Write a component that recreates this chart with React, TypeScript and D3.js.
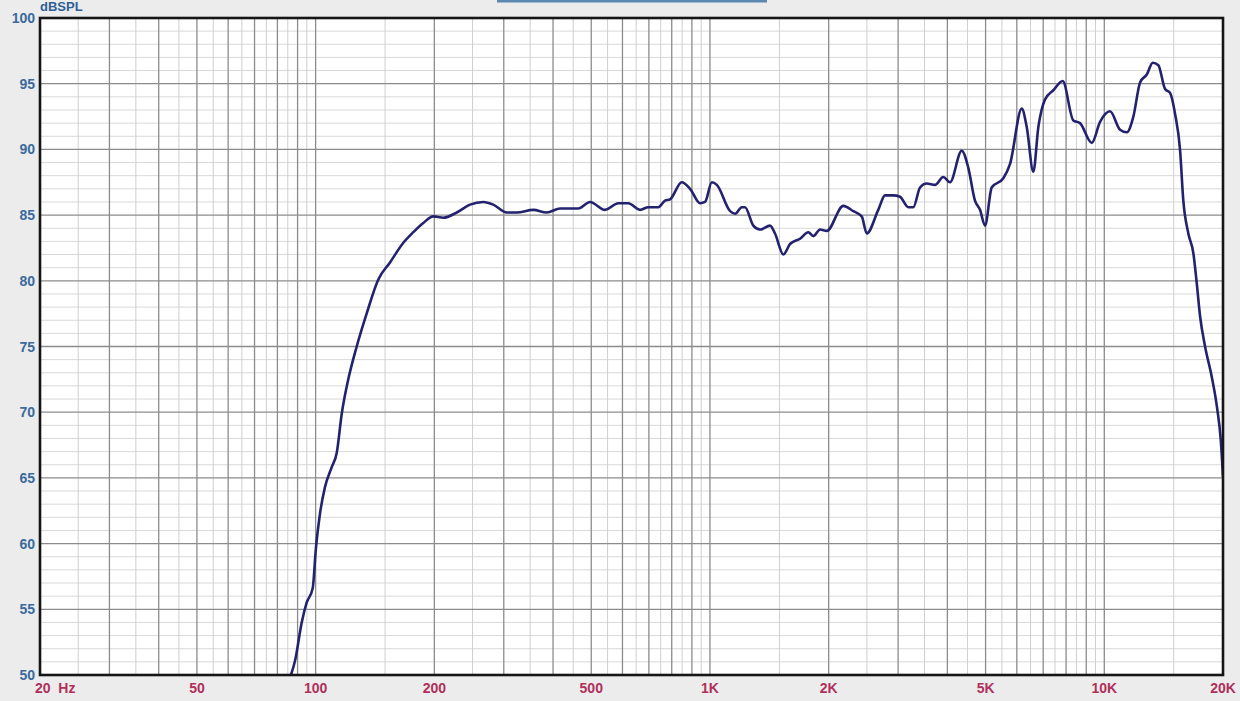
import { useEffect, useRef } from 'react';
import * as d3 from 'd3';

// ─── Data ────────────────────────────────────────────────────
const FREQ = [
  86.6, 88.7, 92.2, 94.9, 98.3, 100.2, 102.6, 105.6, 109.8, 113.1,
  116.5, 121.0, 127.1, 134.7, 144.2, 154.4, 166.9, 176.9, 187.5, 198.8,
  210.8, 228, 246.4, 266.2, 282.2, 305.2, 323.6, 356.4, 385.5, 416.8,
  441.7, 463.6, 496.4, 541.8, 585.6, 620.8, 664.8, 697.6, 739.6, 769.2,
  792.2, 848.2, 890.4, 943.8, 971.8, 1011, 1041, 1125, 1158, 1204,
  1227, 1288, 1340, 1420, 1462, 1535, 1596, 1692, 1776, 1829,
  1902, 1978, 2178, 2310, 2426, 2498, 2672, 2780, 2916, 3032,
  3184, 3278, 3410, 3546, 3722, 3906, 4062, 4350, 4520, 4700,
  4840, 4984, 5182, 5546, 5768, 6176, 6358, 6608, 6804, 7074,
  7426, 7844, 8346, 8678, 9296, 9756, 10342, 10964, 11402, 11850,
  12324, 12816, 13272, 13710, 14258, 14682, 15118, 15560, 15864, 16336,
  16822, 17160, 17494, 18012, 18726, 19348, 19740, 20000,
];

const SPL = [
  50.0, 51.1, 54.0, 55.5, 56.6, 59.7, 62.3, 64.3, 65.8, 66.9,
  69.9, 72.5, 75.0, 77.5, 80.1, 81.4, 82.9, 83.7, 84.4, 84.9,
  84.8, 85.2, 85.8, 86.0, 85.8, 85.2, 85.2, 85.4, 85.2, 85.5,
  85.5, 85.5, 86.0, 85.4, 85.9, 85.9, 85.4, 85.6, 85.6, 86.1,
  86.2, 87.5, 87.0, 85.9, 86.0, 87.5, 87.3, 85.3, 85.1, 85.6,
  85.6, 84.2, 83.9, 84.2, 83.6, 82.0, 82.8, 83.2, 83.7, 83.4,
  83.9, 83.8, 85.7, 85.3, 84.9, 83.6, 85.4, 86.5, 86.5, 86.4,
  85.6, 85.6, 87.1, 87.4, 87.3, 87.9, 87.5, 89.9, 88.6, 86.1,
  85.4, 84.2, 87.1, 87.8, 88.9, 93.1, 91.7, 88.3, 91.7, 93.8,
  94.5, 95.2, 92.2, 92.0, 90.5, 92.1, 92.9, 91.5, 91.3, 92.5,
  95.1, 95.7, 96.6, 96.4, 94.6, 94.3, 92.7, 90.0, 86.1, 83.6,
  82.1, 79.8, 77.3, 75.0, 72.7, 70.2, 67.9, 65.1,
];

const X_TICKS = [20, 50, 100, 200, 500, 1000, 2000, 5000, 10000, 20000];
const X_LABELS = ['20  Hz', '50', '100', '200', '500', '1K', '2K', '5K', '10K', '20K'];
const Y_TICKS = [50, 55, 60, 65, 70, 75, 80, 85, 90, 95, 100];

const W = 1240;
const H = 701;
const M = { left: 40, right: 1223, top: 18, bottom: 675 };

export default function App() {
  const svgRef = useRef<SVGSVGElement>(null);

  useEffect(() => {
    if (!svgRef.current) return;
    document.body.style.margin = '0';

    const svg = d3.select(svgRef.current);
    svg.selectAll('*').remove();

    const x = d3.scaleLog().domain([20, 20000]).range([M.left, M.right]);
    const y = d3.scaleLinear().domain([50, 100]).range([M.bottom, M.top]);

    // background
    svg.append('rect').attr('width', W).attr('height', H).attr('fill', '#ececec');

    // header bar (title box cut off by the top edge)
    svg.append('rect')
      .attr('x', 497).attr('y', 0).attr('width', 270).attr('height', 2.5)
      .attr('fill', '#5a88b2');

    svg.append('rect')
      .attr('x', M.left).attr('y', M.top)
      .attr('width', M.right - M.left).attr('height', M.bottom - M.top)
      .attr('fill', '#ffffff');

    const grid = svg.append('g');

    // ─── Horizontal grid: 1 dB minor, 5 dB major ─────────────
    d3.range(51, 100).filter((v) => v % 5 !== 0).forEach((v) => {
      grid.append('line')
        .attr('x1', M.left).attr('x2', M.right)
        .attr('y1', y(v)).attr('y2', y(v))
        .attr('stroke', '#d9d9d9').attr('stroke-width', 1);
    });

    // ─── Vertical grid ───────────────────────────────────────
    const minorF: number[] = [];
    const majorF: number[] = [];
    [10, 100, 1000, 10000].forEach((dec) => {
      for (let k = 1; k <= 9; k++) {
        const f = k * dec;
        if (f > 20 && f < 20000) majorF.push(f);
        const h = (k + 0.5) * dec;
        if (h > 20 && h < 20000) minorF.push(h);
      }
    });

    minorF.forEach((f) => {
      grid.append('line')
        .attr('x1', x(f)).attr('x2', x(f))
        .attr('y1', M.top).attr('y2', M.bottom)
        .attr('stroke', '#cfcfcf').attr('stroke-width', 1);
    });

    Y_TICKS.filter((v) => v > 50 && v < 100).forEach((v) => {
      grid.append('line')
        .attr('x1', M.left).attr('x2', M.right)
        .attr('y1', y(v)).attr('y2', y(v))
        .attr('stroke', '#8c8c8c').attr('stroke-width', 1.3);
    });

    majorF.forEach((f) => {
      grid.append('line')
        .attr('x1', x(f)).attr('x2', x(f))
        .attr('y1', M.top).attr('y2', M.bottom)
        .attr('stroke', '#8c8c8c').attr('stroke-width', 1.3);
    });

    // ─── Curve ───────────────────────────────────────────────
    svg.append('clipPath').attr('id', 'plot-clip')
      .append('rect')
      .attr('x', M.left).attr('y', M.top)
      .attr('width', M.right - M.left).attr('height', M.bottom - M.top);

    const pts: [number, number][] = FREQ.map((f, i) => [f, SPL[i]]);
    const line = d3.line<[number, number]>()
      .x((d) => x(d[0]))
      .y((d) => y(d[1]))
      .curve(d3.curveMonotoneX);

    svg.append('path')
      .attr('d', line(pts))
      .attr('fill', 'none')
      .attr('stroke', '#22226e')
      .attr('stroke-width', 2.6)
      .attr('stroke-linejoin', 'round')
      .attr('clip-path', 'url(#plot-clip)');

    // ─── Frame ───────────────────────────────────────────────
    svg.append('rect')
      .attr('x', M.left).attr('y', M.top)
      .attr('width', M.right - M.left).attr('height', M.bottom - M.top)
      .attr('fill', 'none').attr('stroke', '#151515').attr('stroke-width', 2.6);

    // ─── Labels ──────────────────────────────────────────────
    const font = '"Liberation Sans", Arial, sans-serif';

    svg.append('text')
      .attr('x', 40).attr('y', 11)
      .attr('font-family', font).attr('font-size', 13).attr('font-weight', 700)
      .attr('fill', '#2f5f96')
      .text('dBSPL');

    svg.selectAll('.ylab')
      .data(Y_TICKS)
      .join('text')
      .attr('class', 'ylab')
      .attr('x', 35)
      .attr('y', (d) => y(d) + 5)
      .attr('text-anchor', 'end')
      .attr('font-family', font).attr('font-size', 14).attr('font-weight', 700)
      .attr('fill', '#3b6a9c')
      .text((d) => d);

    svg.selectAll('.xlab')
      .data(X_TICKS)
      .join('text')
      .attr('class', 'xlab')
      .attr('x', (d, i) => (i === 0 ? 35 : x(d)))
      .attr('y', 693)
      .attr('text-anchor', (d, i) => (i === 0 ? 'start' : 'middle'))
      .attr('font-family', font).attr('font-size', 14).attr('font-weight', 700)
      .attr('fill', '#b0305c')
      .attr('xml:space', 'preserve')
      .style('white-space', 'pre')
      .text((d, i) => X_LABELS[i]);
  }, []);

  return (
    <svg
      ref={svgRef}
      width={W}
      height={H}
      style={{ position: 'absolute', left: 0, top: 0, display: 'block' }}
    />
  );
}
